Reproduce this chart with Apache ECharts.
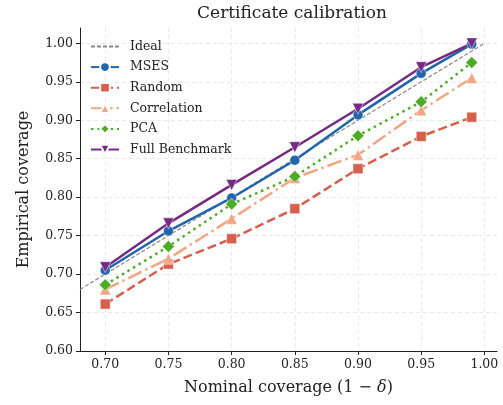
<!DOCTYPE html>
<html>
<head>
<meta charset="utf-8">
<script src="https://cdn.jsdelivr.net/npm/echarts@6/dist/echarts.min.js"></script>
<style>
  html, body { margin: 0; padding: 0; background: #fff; }
  #main { width: 503px; height: 405px; }
</style>
</head>
<body>
<div id="main"></div>
<script>
var nominal = [0.70, 0.75, 0.80, 0.85, 0.90, 0.95, 0.99];
var mses = [0.705, 0.756, 0.799, 0.848, 0.907, 0.961, 0.999];
var random = [0.661, 0.713, 0.746, 0.785, 0.837, 0.879, 0.904];
var correlation = [0.680, 0.720, 0.772, 0.825, 0.855, 0.913, 0.955];
var pca = [0.686, 0.736, 0.791, 0.827, 0.880, 0.924, 0.975];
var full = [0.709, 0.766, 0.816, 0.865, 0.915, 0.969, 1.000];
var idealX = [0.68, 1.00];
var xTicks = [0.70, 0.75, 0.80, 0.85, 0.90, 0.95, 1.00];
var yTicks = [0.60, 0.65, 0.70, 0.75, 0.80, 0.85, 0.90, 0.95, 1.00];

var font = 'DejaVu Serif';

function pairs(xs, ys) {
  return xs.map(function (x, i) { return [x, ys[i]]; });
}

var chartDom = document.getElementById('main');
var myChart = echarts.init(chartDom);

function lineSeries(name, ys, color, dash, symbol, size, rotate) {
  return {
    name: name,
    type: 'line',
    data: pairs(nominal, ys),
    symbol: symbol,
    symbolSize: size,
    symbolRotate: rotate || 0,
    lineStyle: { color: color, width: 2.5, type: dash },
    itemStyle: { color: color, borderColor: '#fff', borderWidth: 0.5 },
    emphasis: { disabled: true }
  };
}

var option = {
  animation: false,
  title: {
    text: 'Certificate calibration',
    left: 287,
    textAlign: 'center',
    top: 0,
    textStyle: { fontFamily: font, fontWeight: 'normal', fontSize: 17, color: '#222' }
  },
  grid: { left: 80, right: 6, top: 28, bottom: 54 },
  legend: {
    orient: 'vertical',
    left: 85,
    top: 35,
    itemWidth: 28,
    itemHeight: 12,
    itemGap: 7.6,
    textStyle: { fontFamily: font, fontSize: 12.5, color: '#222', padding: [0, 0, 0, 6] },
    data: [
      { name: 'Ideal', itemStyle: { opacity: 0 } },
      'MSES', 'Random', 'Correlation', 'PCA', 'Full Benchmark'
    ]
  },
  xAxis: {
    type: 'value',
    min: 0.68,
    max: 1.01,
    name: '{n|Nominal coverage (1 \u2212 }{d|\u03b4}{n|)}',
    nameLocation: 'middle',
    nameGap: 29,
    nameTextStyle: {
      rich: {
        n: { fontFamily: font, fontSize: 16, color: '#222' },
        d: { fontFamily: font, fontSize: 16, fontStyle: 'italic', color: '#222' }
      }
    },
    axisLine: { show: true, onZero: false, lineStyle: { color: '#222', width: 1 } },
    axisTick: { show: true, length: 4, customValues: xTicks, lineStyle: { color: '#222' } },
    axisLabel: {
      customValues: xTicks,
      margin: 7,
      fontFamily: font,
      fontSize: 12.5,
      color: '#222',
      formatter: function (v) { return v.toFixed(2); }
    },
    splitLine: { show: true, lineStyle: { color: '#e3e3e3', width: 0.8, type: [4, 3] } }
  },
  yAxis: {
    type: 'value',
    min: 0.6,
    max: 1.02,
    name: 'Empirical coverage',
    nameLocation: 'middle',
    nameGap: 48,
    nameTextStyle: { fontFamily: font, fontSize: 16, color: '#222' },
    axisLine: { show: true, onZero: false, lineStyle: { color: '#222', width: 1 } },
    axisTick: { show: true, length: 4, customValues: yTicks, lineStyle: { color: '#222' } },
    axisLabel: {
      customValues: yTicks,
      margin: 7,
      fontFamily: font,
      fontSize: 12.5,
      color: '#222',
      formatter: function (v) { return v.toFixed(2); }
    },
    splitLine: { show: true, lineStyle: { color: '#e3e3e3', width: 0.8, type: [4, 3] } }
  },
  series: [
    {
      name: 'Ideal',
      type: 'line',
      data: pairs(idealX, idealX),
      symbol: 'none',
      lineStyle: { color: '#888888', width: 1.2, type: [4, 2] },
      itemStyle: { color: '#888888' },
      emphasis: { disabled: true }
    },
    lineSeries('MSES', mses, '#2166ac', 'solid', 'circle', 10),
    lineSeries('Random', random, '#d6604d', [9, 4], 'rect', 10),
    lineSeries('Correlation', correlation, '#f4a582', [15, 4, 2.5, 4], 'triangle', 11),
    lineSeries('PCA', pca, '#4dac26', [2.5, 4], 'diamond', 12),
    lineSeries('Full Benchmark', full, '#762a83', 'solid', 'triangle', 11, 180)
  ]
};

option && myChart.setOption(option);
</script>
</body>
</html>
